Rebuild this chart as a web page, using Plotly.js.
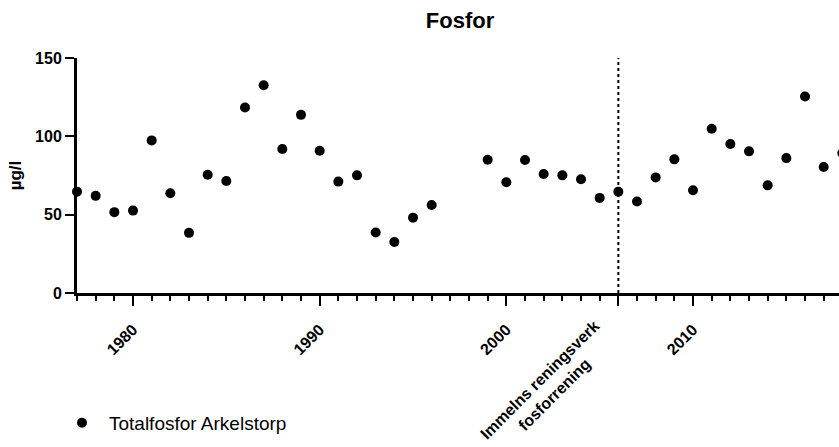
<!DOCTYPE html>
<html><head><meta charset="utf-8">
<script src="https://cdn.plot.ly/plotly-3.0.1.min.js"></script>
<style>html,body{margin:0;padding:0;background:#fff;overflow:hidden}#chart{width:839px;height:447px;overflow:hidden}</style>
</head><body><div id="chart"></div>
<script>
const years = [1977,1978,1979,1980,1981,1982,1983,1984,1985,1986,1987,1988,1989,1990,1991,1992,1993,1994,1995,1996,1999,2000,2001,2002,2003,2004,2005,2006,2007,2008,2009,2010,2011,2012,2013,2014,2015,2016,2017,2018];
const totalP = [64.7,62.0,51.6,52.6,97.4,63.7,38.4,75.5,71.5,118.4,132.6,91.9,113.7,90.8,71.1,75.1,38.6,32.5,48.1,56.2,85.1,70.7,84.9,76.0,75.1,72.6,60.7,64.7,58.4,73.8,85.3,65.6,104.8,95.1,90.4,68.7,86.1,125.4,80.4,89.3];
const tickVals = [1980,1990,2000,2006,2010];
const tickText = ['1980','1990','2000','','2010'];
const eventYear = 2006;
const eventLabel = 'Immelns reningsverk<br>fosforrening';
const seriesName = 'Totalfosfor Arkelstorp';

const F = 'Liberation Sans, Arial, sans-serif';
const trace = {
  x: years, y: totalP, type: 'scatter', mode: 'markers', name: seriesName,
  marker: {color: '#000', size: 10}, cliponaxis: false
};
const layout = {
  width: 850, height: 447,
  margin: {l: 77, r: 0, t: 58, b: 154},
  paper_bgcolor: '#fff', plot_bgcolor: '#fff',
  title: {text: '<b>Fosfor</b>', xref: 'container', x: 460/850, xanchor: 'center', yref: 'container', y: 1 - 20/447, yanchor: 'middle', font: {family: F, size: 22, color: '#000'}},
  xaxis: {
    range: [1977, 1977 + 773/18.667], showgrid: false, zeroline: false,
    showline: true, linewidth: 3, linecolor: '#000',
    tickmode: 'array', tickvals: tickVals, ticktext: tickText,
    ticks: 'outside', ticklen: 10, tickwidth: 2, tickcolor: '#000',
    tickangle: -45, tickfont: {family: F, size: 16, color: '#000', weight: 'bold'},
    minor: {tickmode: 'linear', tick0: 1977, dtick: 1, ticks: 'outside', ticklen: 5, tickwidth: 2, tickcolor: '#000', showgrid: false},
    ticklabelstandoff: 8
  },
  yaxis: {
    range: [0, 150], showgrid: false, zeroline: false,
    showline: true, linewidth: 3, linecolor: '#000',
    tickvals: [0,50,100,150], ticks: 'outside', ticklen: 9, tickwidth: 2, tickcolor: '#000',
    tickfont: {family: F, size: 16, color: '#000', weight: 'bold'},
    title: {text: '<b>µg/l</b>', font: {family: F, size: 17, color: '#000'}, standoff: 10}
  },
  shapes: [{type: 'line', xref: 'x', yref: 'y', x0: eventYear, x1: eventYear, y0: 0, y1: 150,
    line: {color: '#000', width: 2, dash: 'dot'}}],
  annotations: [{text: '<b>' + eventLabel + '</b>', xref: 'x', x: eventYear, yref: 'paper', y: 0,
    xshift: -71, yshift: -94, xanchor: 'center', yanchor: 'middle', align: 'center', textangle: -45,
    showarrow: false, font: {family: F, size: 16, color: '#000'}}],
  showlegend: true,
  legend: {x: -0.0285, xanchor: 'left', y: -0.553, yanchor: 'middle', itemwidth: 44, font: {family: F, size: 19, color: '#000'}, bgcolor: 'rgba(0,0,0,0)'}
};
Plotly.newPlot('chart', [trace], layout, {displayModeBar: false, staticPlot: true});
</script></body></html>
